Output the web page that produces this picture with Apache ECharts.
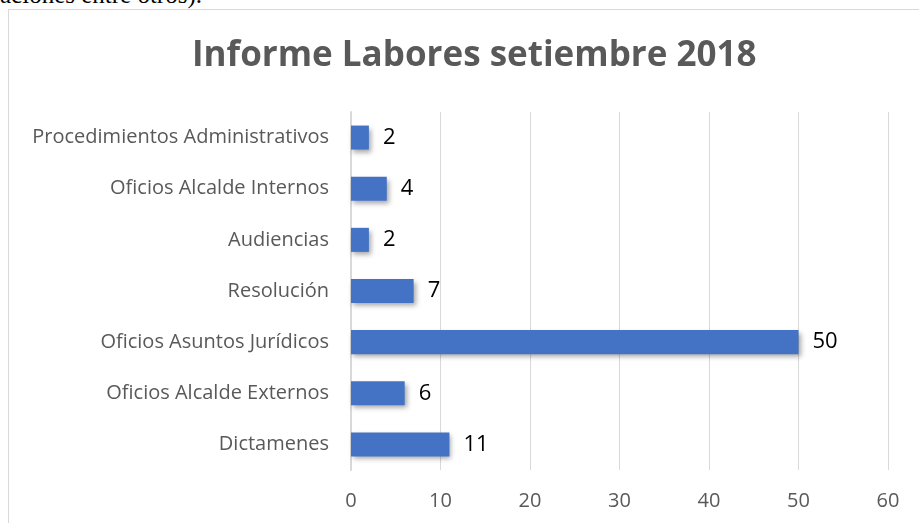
<!DOCTYPE html>
<html>
<head>
<meta charset="utf-8">
<script src="https://cdn.jsdelivr.net/npm/echarts@6/dist/echarts.min.js"></script>
<style>
    html, body { margin: 0; padding: 0; background: white; overflow: hidden; }
    .doc-line {
        position: absolute; left: 0; top: -19px;
        font-family: "Liberation Serif", serif; font-size: 25px; color: #000;
        white-space: nowrap;
    }
    .frame {
        position: absolute; left: 8px; top: 9px; width: 1000px; height: 600px;
        border: 1px solid #d9d9d9; box-sizing: border-box;
    }
    #main { position: absolute; left: 0; top: 0; width: 919px; height: 523px; }
</style>
</head>
<body>
<div class="doc-line">aciones entre otros).</div>
<div class="frame"></div>
<div id="main"></div>
<script>
    // categorias de abajo hacia arriba (como en Excel)
    const categories = [
        'Dictamenes',
        'Oficios Alcalde Externos',
        'Oficios Asuntos Jurídicos',
        'Resolución',
        'Audiencias',
        'Oficios Alcalde Internos',
        'Procedimientos Administrativos'
    ];
    const values = [11, 6, 50, 7, 2, 4, 2];
    const xTicks = [0, 10, 20, 30, 40, 50, 60];

    const font = '"Open Sans", sans-serif';
    const chart = echarts.init(document.getElementById('main'));
    let option = {
        animation: false,
        title: {
            text: 'Informe Labores setiembre 2018',
            left: 187,
            top: 34,
            textStyle: {
                fontFamily: font,
                fontSize: 35,
                fontWeight: 'bold',
                color: '#595959'
            }
        },
        grid: { left: 351, right: 31, top: 112, bottom: 53 },
        xAxis: {
            type: 'value',
            min: xTicks[0],
            max: xTicks[xTicks.length - 1],
            interval: 10,
            axisLine: { show: false },
            axisTick: { show: false },
            splitLine: { lineStyle: { color: '#d9d9d9', width: 1 } },
            axisLabel: {
                margin: 21,
                fontFamily: font,
                fontSize: 20,
                color: '#595959'
            }
        },
        yAxis: {
            type: 'category',
            data: categories,
            axisLine: { show: true, lineStyle: { color: '#d9d9d9', width: 2 } },
            axisTick: { show: false },
            axisLabel: {
                margin: 22,
                fontFamily: font,
                fontSize: 20,
                color: '#595959'
            }
        },
        series: [{
            type: 'bar',
            data: values,
            barCategoryGap: '53%',
            itemStyle: {
                color: '#4472c4',
                shadowColor: 'rgba(0,0,0,0.35)',
                shadowBlur: 5,
                shadowOffsetX: 2,
                shadowOffsetY: 3
            },
            label: {
                show: true,
                position: 'right',
                distance: 14,
                fontFamily: font,
                fontSize: 22,
                color: '#000'
            }
        }]
    };
    chart.setOption(option);
</script>
</body>
</html>
